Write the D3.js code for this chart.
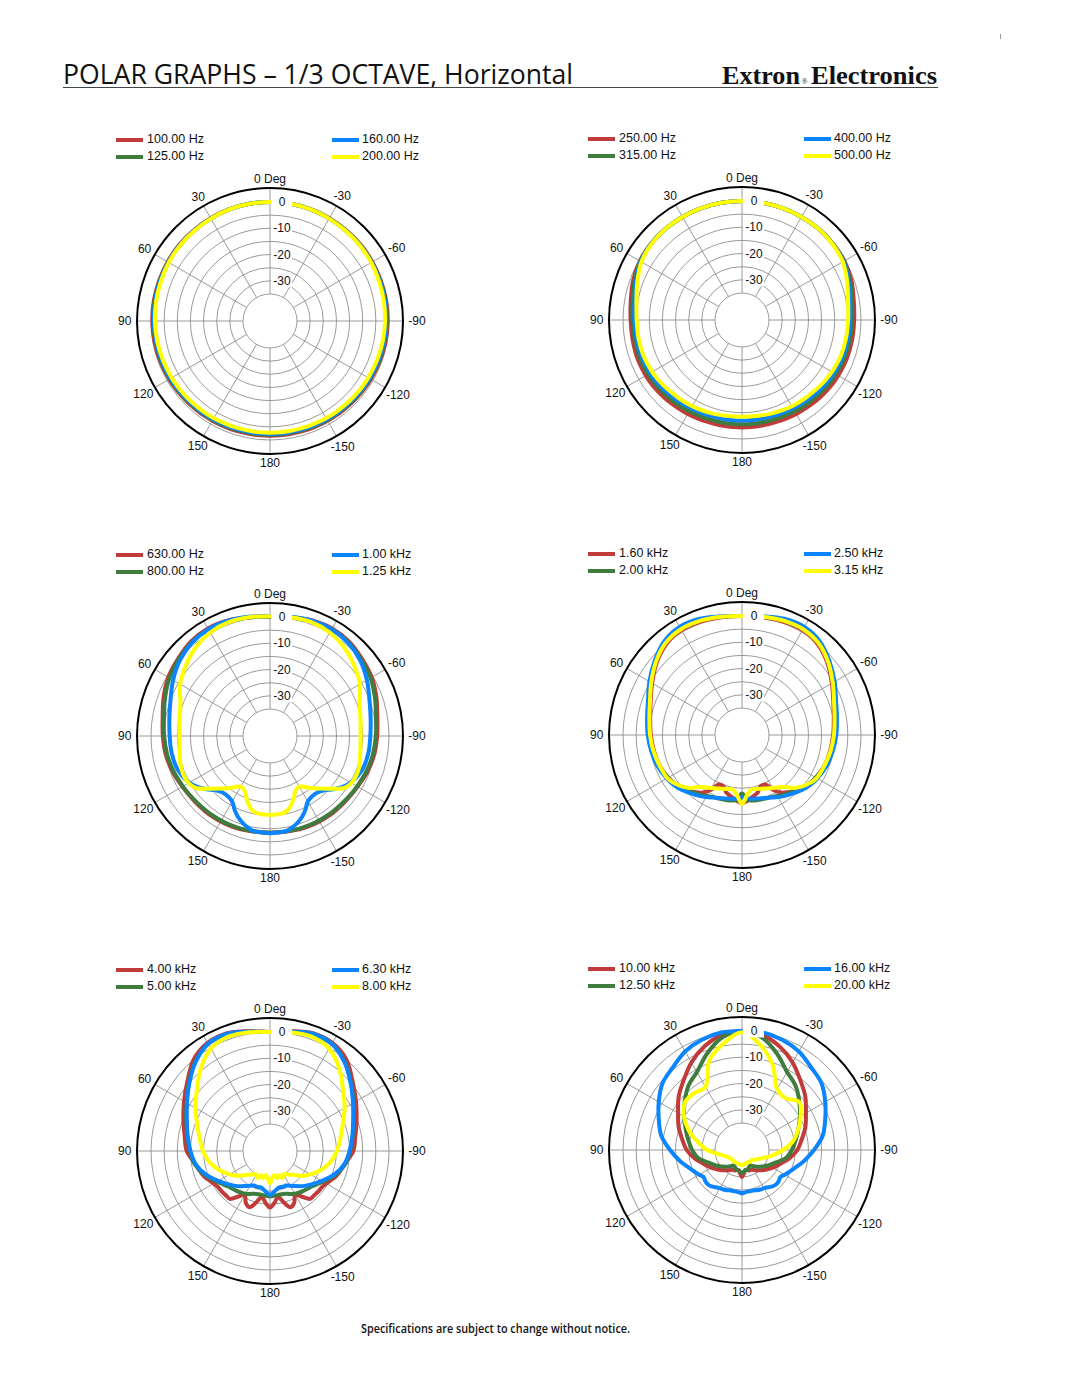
<!DOCTYPE html>
<html><head><meta charset="utf-8">
<script src="https://cdn.jsdelivr.net/npm/d3@7"></script>
<style>html,body{margin:0;padding:0;background:#fff}svg{display:block}</style>
</head><body>
<svg id="c" width="1080" height="1397"></svg>
<script>
// ---------- DATA ----------
const ANGLES = [0,10,20,30,40,50,60,70,80,90,100,110,120,125,130,135,140,145,150,155,160,165,170,175,180,
  -175,-170,-165,-160,-155,-150,-145,-140,-135,-130,-125,-120,-110,-100,-90,-80,-70,-60,-50,-40,-30,-20,-10];

const LEGEND_1 = ["100.00 Hz","125.00 Hz","160.00 Hz","200.00 Hz"];
const LEGEND_2 = ["250.00 Hz","315.00 Hz","400.00 Hz","500.00 Hz"];
const LEGEND_3 = ["630.00 Hz","800.00 Hz","1.00 kHz","1.25 kHz"];
const LEGEND_4 = ["1.60 kHz","2.00 kHz","2.50 kHz","3.15 kHz"];
const LEGEND_5 = ["4.00 kHz","5.00 kHz","6.30 kHz","8.00 kHz"];
const LEGEND_6 = ["10.00 kHz","12.50 kHz","16.00 kHz","20.00 kHz"];

const GRID_DB = [-35,-30,-25,-20,-15,-10,-5,0];
const DB_TICKS = [0,-10,-20,-30];
const DB_TICK_LABELS = ["0","-10","-20","-30"];
const ANGLE_TICKS = [0,30,60,90,120,150,180,-150,-120,-90,-60,-30];
const ANGLE_LABELS = ["0 Deg","30","60","90","120","150","180","-150","-120","-90","-60","-30"];

// chart 1 : 100 - 200 Hz
const C1_A = [0,0,0,-0.1,-0.2,-0.2,-0.3,-0.4,-0.4,-0.5,-0.6,-0.8,-1.0,-1.1,-1.2,-1.3,-1.4,-1.4,-1.5,-1.5,-1.5,-1.6,-1.6,-1.6,-1.6,
  -1.6,-1.6,-1.6,-1.5,-1.5,-1.5,-1.4,-1.4,-1.3,-1.2,-1.1,-1.0,-0.8,-0.6,-0.5,-0.4,-0.4,-0.3,-0.2,-0.2,-0.1,0,0];
const C1_B = [0,0,-0.1,-0.2,-0.3,-0.4,-0.5,-0.6,-0.7,-0.8,-1.0,-1.1,-1.3,-1.4,-1.5,-1.6,-1.7,-1.8,-1.8,-1.9,-1.9,-2.0,-2.0,-2.0,-2.0,
  -2.0,-2.0,-2.0,-1.9,-1.9,-1.8,-1.8,-1.7,-1.6,-1.5,-1.4,-1.3,-1.1,-1.0,-0.8,-0.7,-0.6,-0.5,-0.4,-0.3,-0.2,-0.1,0];
const C1_C = [0,0,-0.1,-0.3,-0.4,-0.5,-0.6,-0.8,-0.9,-1.1,-1.2,-1.4,-1.6,-1.7,-1.8,-1.9,-2.0,-2.0,-2.1,-2.2,-2.2,-2.3,-2.3,-2.3,-2.3,
  -2.3,-2.3,-2.3,-2.2,-2.2,-2.1,-2.0,-2.0,-1.9,-1.8,-1.7,-1.6,-1.4,-1.2,-1.1,-0.9,-0.8,-0.6,-0.5,-0.4,-0.3,-0.1,0];
const C1_D = [0,0,-0.1,-0.3,-0.5,-0.6,-0.8,-1.1,-1.3,-1.5,-1.7,-1.9,-2.1,-2.2,-2.3,-2.4,-2.5,-2.5,-2.6,-2.7,-2.7,-2.8,-2.8,-2.8,-2.8,
  -2.8,-2.8,-2.8,-2.7,-2.7,-2.6,-2.5,-2.5,-2.4,-2.3,-2.2,-2.1,-1.9,-1.7,-1.5,-1.3,-1.1,-0.8,-0.6,-0.5,-0.3,-0.1,0];

// chart 2 : 250 - 500 Hz
const C2_A = [0,0,0,0,0,-0.1,-0.4,-1.2,-2.3,-2.9,-3.0,-2.9,-3.0,-3.1,-3.3,-3.5,-3.7,-3.9,-4.0,-4.2,-4.3,-4.4,-4.4,-4.4,-4.4,
  -4.4,-4.4,-4.4,-4.3,-4.2,-4.0,-3.9,-3.7,-3.5,-3.3,-3.1,-3.0,-2.8,-2.7,-2.6,-2.1,-1.0,-0.3,-0.1,0,0,0,0];
const C2_B = [0,0,0,0,0,-0.1,-0.6,-1.8,-3.0,-3.6,-3.8,-3.8,-4.0,-4.2,-4.4,-4.6,-4.8,-5.0,-5.2,-5.4,-5.5,-5.6,-5.6,-5.6,-5.6,
  -5.6,-5.6,-5.6,-5.5,-5.4,-5.2,-5.0,-4.8,-4.6,-4.4,-4.2,-4.0,-3.7,-3.6,-3.4,-2.8,-1.6,-0.5,-0.1,0,0,0,0];
const C2_C = [0,0,0,0,0,-0.2,-0.8,-2.3,-3.7,-4.3,-4.5,-4.6,-4.9,-5.1,-5.4,-5.7,-6.0,-6.3,-6.5,-6.7,-6.9,-7.0,-7.0,-7.0,-7.0,
  -7.0,-7.0,-7.0,-6.9,-6.7,-6.5,-6.3,-6.0,-5.7,-5.4,-5.1,-4.9,-4.5,-4.3,-4.1,-3.5,-2.1,-0.7,-0.2,0,0,0,0];
const C2_D = [0,0,0,0,0,-0.3,-1.1,-2.9,-4.5,-5.2,-5.3,-5.4,-5.8,-6.1,-6.4,-6.8,-7.0,-7.2,-7.4,-7.6,-7.9,-8.1,-8.3,-8.5,-8.5,
  -8.5,-8.3,-8.1,-7.9,-7.6,-7.4,-7.2,-7.0,-6.8,-6.4,-6.1,-5.8,-5.3,-5.1,-4.9,-4.3,-2.7,-1.0,-0.3,0,0,0,0];

// chart 3 : 630 Hz - 1.25 kHz
const C3_A = [0.2,0.6,1.5,2.0,1.6,0.4,-0.6,-2.2,-3.8,-4.5,-5.0,-5.8,-6.8,-7.1,-7.3,-7.4,-7.5,-7.6,-7.7,-7.8,-8.0,-8.2,-8.4,-8.5,-8.5,
  -8.5,-8.4,-8.2,-8.0,-7.8,-7.7,-7.6,-7.5,-7.4,-7.3,-7.1,-6.8,-5.8,-5.0,-4.5,-3.8,-2.2,-0.6,0.4,1.6,2.0,1.5,0.6];
const C3_B = [0.2,0.5,1.2,1.6,1.2,0,-1.1,-2.8,-4.3,-5.0,-5.5,-6.2,-7.0,-7.3,-7.6,-7.8,-7.9,-8.0,-8.1,-8.2,-8.3,-8.4,-8.5,-8.5,-8.5,
  -8.5,-8.5,-8.4,-8.3,-8.2,-8.1,-8.0,-7.9,-7.8,-7.6,-7.3,-7.0,-6.2,-5.5,-5.0,-4.3,-2.8,-1.1,0,1.2,1.6,1.2,0.5];
const C3_C = [0.3,0.8,1.4,1.6,1.0,-0.5,-2.7,-5.0,-6.4,-7.1,-7.3,-7.9,-9.8,-11.5,-13.8,-16.0,-17.2,-17.3,-16.5,-13.8,-11.5,-9.8,-8.6,-8.4,-8.3,
  -8.4,-8.6,-9.8,-11.5,-13.8,-16.5,-17.3,-17.2,-16.0,-13.8,-11.5,-9.8,-7.9,-7.3,-7.1,-6.4,-5.0,-2.7,-0.5,1.0,1.6,1.4,0.8];
const C3_D = [0.3,0.6,0.8,0.2,-1.3,-3.5,-5.8,-9.0,-10.3,-10.8,-10.4,-9.3,-9.5,-10.8,-14.0,-17.0,-19.3,-21.5,-23.0,-22.3,-19.5,-16.8,-15.5,-15.3,-15.3,
  -15.3,-15.5,-16.8,-19.5,-22.3,-23.0,-21.5,-19.3,-17.0,-14.0,-10.8,-9.5,-9.3,-10.4,-10.8,-10.3,-9.0,-5.8,-3.5,-1.3,0.2,0.8,0.6];

// chart 4 : 1.6 - 3.15 kHz
const C4_A = [0,0.2,0.6,0.8,-0.3,-2.8,-5.8,-8.3,-9.8,-10.6,-11.2,-11.8,-12.8,-13.5,-14.3,-15.4,-17.0,-18.5,-21.0,-24.5,-24.5,-22.5,-21.5,-20.2,-19.3,
  -20.2,-21.5,-22.5,-24.5,-24.5,-21.0,-18.5,-17.0,-15.4,-14.3,-13.5,-12.8,-11.8,-11.2,-10.6,-9.8,-8.3,-5.8,-2.8,-0.3,0.8,0.6,0.2];
const C4_B = [0,0.4,1.3,1.6,0.5,-2.2,-5.2,-7.8,-9.2,-10.0,-10.7,-11.5,-12.8,-13.5,-14.4,-15.5,-16.6,-17.6,-18.5,-19.2,-19.5,-19.8,-20.0,-20.5,-23.0,
  -20.5,-20.0,-19.8,-19.5,-19.2,-18.5,-17.6,-16.6,-15.5,-14.4,-13.5,-12.8,-11.5,-10.7,-10.0,-9.2,-7.8,-5.2,-2.2,0.5,1.6,1.3,0.4];
const C4_C = [0,0.6,1.8,2.2,1.0,-1.8,-4.6,-7.2,-8.6,-9.4,-10.2,-11.0,-12.2,-12.9,-13.8,-14.9,-16.0,-17.0,-18.0,-19.0,-19.8,-20.3,-20.6,-21.0,-21.5,
  -21.0,-20.6,-20.3,-19.8,-19.0,-18.0,-17.0,-16.0,-14.9,-13.8,-12.9,-12.2,-11.0,-10.2,-9.4,-8.6,-7.2,-4.6,-1.8,1.0,2.2,1.8,0.6];
const C4_D = [0,0.4,1.0,1.2,0.2,-2.4,-5.4,-8.0,-9.5,-10.3,-11.0,-11.8,-12.5,-13.5,-15.0,-16.8,-19.5,-21.0,-22.0,-22.8,-23.5,-24.0,-24.3,-22.5,-19.0,
  -22.5,-24.3,-24.0,-23.5,-22.8,-22.0,-21.0,-19.5,-16.8,-15.0,-13.5,-12.5,-11.8,-11.0,-10.3,-9.5,-8.0,-5.4,-2.4,0.2,1.2,1.0,0.4];

// chart 5 : 4 - 8 kHz
const C5_A = [0,1.0,2.4,2.2,0,-4.2,-7.5,-10.2,-12.3,-13.6,-16.5,-18.2,-20.5,-21.2,-21.3,-21.5,-21.5,-24.0,-26.0,-23.5,-22.5,-25.0,-27.5,-25.5,-23.8,
  -25.5,-27.5,-25.0,-22.5,-23.5,-26.0,-24.0,-21.5,-21.5,-21.3,-21.2,-20.5,-18.2,-16.5,-13.6,-12.3,-10.2,-7.5,-4.2,0,2.2,2.4,1.0];
const C5_B = [0,0.8,2.0,1.8,-1.0,-5.0,-8.6,-11.4,-13.3,-14.8,-16.2,-18.8,-22.0,-23.3,-24.4,-25.0,-25.5,-26.0,-26.5,-27.2,-28.0,-28.2,-28.3,-28.2,-28.0,
  -28.2,-28.3,-28.2,-28.0,-27.2,-26.5,-26.0,-25.5,-25.0,-24.4,-23.3,-22.0,-18.8,-16.2,-14.8,-13.3,-11.4,-8.6,-5.0,-1.0,1.8,2.0,0.8];
const C5_C = [0,0.8,2.2,1.8,-1.2,-5.2,-8.8,-11.6,-13.5,-15.0,-16.5,-19.2,-22.5,-24.0,-25.3,-26.5,-27.8,-29.0,-30.0,-30.8,-30.8,-31.0,-30.5,-29.5,-28.5,
  -29.5,-30.5,-31.0,-30.8,-30.8,-30.0,-29.0,-27.8,-26.5,-25.3,-24.0,-22.5,-19.2,-16.5,-15.0,-13.5,-11.6,-8.8,-5.2,-1.2,1.8,2.2,0.8];
const C5_D = [0,0.6,1.0,-0.3,-4.3,-9.0,-12.5,-15.8,-18.1,-19.8,-21.8,-24.5,-27.5,-29.0,-30.5,-32.5,-33.5,-34.5,-35.0,-34.0,-35.5,-34.5,-36.0,-35.0,-33.0,
  -35.0,-36.0,-34.5,-35.5,-34.0,-35.0,-34.5,-33.5,-32.5,-30.5,-29.0,-27.5,-24.5,-21.8,-19.8,-18.1,-15.8,-12.5,-9.0,-4.3,-0.3,1.0,0.6];

// chart 6 : 10 - 20 kHz
const C6_A = [0,-0.8,-3.4,-6.8,-10.7,-13.8,-17.2,-19.6,-22.2,-24.2,-27.0,-29.8,-31.8,-32.8,-33.6,-34.4,-35.2,-35.8,-36.5,-37.0,-37.0,-37.5,-37.5,-36.5,-35.0,
  -36.5,-37.5,-37.5,-37.0,-37.0,-36.5,-35.8,-35.2,-34.4,-33.6,-32.8,-31.8,-29.8,-27.0,-24.2,-22.2,-19.6,-17.2,-13.8,-10.7,-6.8,-3.4,-0.8];
const C6_B = [0,-1.8,-6.3,-11.0,-13.5,-16.8,-19.8,-22.5,-24.6,-26.3,-28.2,-31.5,-33.6,-34.6,-35.5,-36.2,-37.0,-37.8,-38.5,-38.5,-38.0,-37.5,-37.5,-37.0,-36.4,
  -37.0,-37.5,-37.5,-38.0,-38.5,-38.5,-37.8,-37.0,-36.2,-35.5,-34.6,-33.6,-31.5,-28.2,-26.3,-24.6,-22.5,-19.8,-16.8,-13.5,-11.0,-6.3,-1.8];
const C6_C = [0,0.1,-0.6,-2.0,-4.3,-5.8,-8.7,-11.6,-14.1,-17.9,-21.3,-24.4,-26.5,-27.4,-27.0,-26.8,-27.2,-28.0,-28.5,-28.7,-29.0,-29.3,-29.3,-29.2,-28.8,
  -29.2,-29.3,-29.3,-29.0,-28.7,-28.5,-28.0,-27.2,-26.8,-27.0,-27.4,-26.5,-24.4,-21.3,-17.9,-14.1,-11.6,-8.7,-5.8,-4.3,-2.0,-0.6,0.1];
const C6_D = [-0.5,-4.2,-9.0,-17.5,-17.0,-17.0,-19.8,-23.8,-28.3,-32.0,-36.2,-38.5,-39.5,-39.8,-40.0,-40.0,-40.0,-40.0,-40.0,-40.0,-40.0,-40.0,-39.8,-39.6,-39.5,
  -39.6,-39.8,-40.0,-40.0,-40.0,-40.0,-40.0,-40.0,-39.8,-39.5,-39.0,-38.3,-36.5,-33.5,-29.7,-25.5,-22.5,-19.5,-16.8,-19.5,-18.5,-11.0,-4.8];

// ---------- LAYOUT / STYLE ----------
const charts = [
  {cx:270, cy:321, legend:LEGEND_1, series:[C1_A,C1_B,C1_C,C1_D]},
  {cx:742, cy:320, legend:LEGEND_2, series:[C2_A,C2_B,C2_C,C2_D]},
  {cx:270, cy:736, legend:LEGEND_3, series:[C3_A,C3_B,C3_C,C3_D]},
  {cx:742, cy:735, legend:LEGEND_4, series:[C4_A,C4_B,C4_C,C4_D]},
  {cx:270, cy:1151, legend:LEGEND_5, series:[C5_A,C5_B,C5_C,C5_D]},
  {cx:742, cy:1150, legend:LEGEND_6, series:[C6_A,C6_B,C6_C,C6_D]}
];
const COLORS = ["#c13b3b","#3e7d3e","#0a84ff","#ffff00"];
const FONT = "'Liberation Sans', Arial, Helvetica, sans-serif";
const OUTER_R = 133;
const INNER_R = 27;
const rScale = d3.scaleLinear().domain([-35, 0]).range([INNER_R, 119]);
const rad = d => d * Math.PI / 180;

const svg = d3.select("#c");

// header
svg.append("text").attr("x", 63).attr("y", 84)
  .attr("font-family", "'Open Sans', 'Noto Sans', sans-serif").attr("font-size", 27)
  .attr("fill", "#111").attr("textLength", 510).attr("lengthAdjust", "spacingAndGlyphs")
  .text("POLAR GRAPHS \u2013 1/3 OCTAVE, Horizontal");
svg.append("line").attr("x1", 63).attr("x2", 938).attr("y1", 87.5).attr("y2", 87.5)
  .attr("stroke", "#444").attr("stroke-width", 1.2);
const SERIF = "'Liberation Serif', 'Times New Roman', serif";
svg.append("text").attr("x", 722).attr("y", 84).attr("font-family", SERIF).attr("font-weight", "bold")
  .attr("font-size", 26).attr("fill", "#111").attr("textLength", 78).attr("lengthAdjust", "spacingAndGlyphs")
  .text("Extron");
svg.append("text").attr("x", 801.5).attr("y", 84).attr("font-family", SERIF)
  .attr("font-size", 8).attr("fill", "#111").text("\u00AE");
svg.append("text").attr("x", 811).attr("y", 84).attr("font-family", SERIF).attr("font-weight", "bold")
  .attr("font-size", 26).attr("fill", "#111").attr("textLength", 126).attr("lengthAdjust", "spacingAndGlyphs")
  .text("Electronics");
svg.append("line").attr("x1", 1000.5).attr("x2", 1000.5).attr("y1", 34).attr("y2", 39)
  .attr("stroke", "#999").attr("stroke-width", 1);

// footer
svg.append("text").attr("x", 361).attr("y", 1333)
  .attr("font-family", "'Open Sans', 'Noto Sans', sans-serif").attr("font-weight", 600)
  .attr("font-size", 12).attr("fill", "#111").attr("textLength", 269).attr("lengthAdjust", "spacingAndGlyphs")
  .text("Specifications are subject to change without notice.");

const lineGen = d3.lineRadial()
  .angle(d => -rad(d[0]))
  .radius(d => rScale(d[1]))
  .curve(d3.curveCatmullRomClosed.alpha(0.5));

charts.forEach(ch => {
  const g = svg.append("g").attr("transform", `translate(${ch.cx},${ch.cy})`);

  // legend
  const cols = [{sx:-154, tx:-123}, {sx:-154, tx:-123}, {sx:62, tx:92}, {sx:62, tx:92}];
  ch.legend.forEach((lab, i) => {
    const c = cols[i];
    const y = (i % 2 === 0) ? -182 : -165;
    g.append("rect").attr("x", c.sx).attr("y", y - 1).attr("width", 27).attr("height", 4)
      .attr("fill", COLORS[i]);
    g.append("text").attr("x", c.tx).attr("y", y).attr("dominant-baseline", "central")
      .attr("font-family", FONT).attr("font-size", 12.5).attr("fill", "#111").text(lab);
  });

  // grid circles
  g.selectAll("circle.grid").data(GRID_DB).enter().append("circle")
    .attr("r", d => rScale(d)).attr("fill", "none").attr("stroke", "#8e8e8e").attr("stroke-width", 0.9);
  // spokes
  g.selectAll("line.spoke").data(d3.range(0, 360, 30)).enter().append("line")
    .attr("x1", d => INNER_R * Math.sin(rad(d))).attr("y1", d => -INNER_R * Math.cos(rad(d)))
    .attr("x2", d => OUTER_R * Math.sin(rad(d))).attr("y2", d => -OUTER_R * Math.cos(rad(d)))
    .attr("stroke", "#8e8e8e").attr("stroke-width", 0.9);
  // outer circle
  g.append("circle").attr("r", OUTER_R).attr("fill", "none").attr("stroke", "#000").attr("stroke-width", 2);

  // curves
  ch.series.forEach((vals, i) => {
    const pts = ANGLES.map((a, k) => [a, vals[k]]);
    g.append("path").attr("d", lineGen(pts)).attr("fill", "none")
      .attr("stroke", COLORS[i]).attr("stroke-width", 4)
      .attr("stroke-linejoin", "round").attr("stroke-linecap", "round");
  });

  // dB labels with white backing
  DB_TICKS.forEach((d, i) => {
    const y = -rScale(d);
    g.append("rect").attr("x", 1).attr("y", y - 6.5).attr("width", 21).attr("height", 13).attr("fill", "#fff");
    g.append("text").attr("x", 12).attr("y", y).attr("text-anchor", "middle").attr("dominant-baseline", "central")
      .attr("font-family", FONT).attr("font-size", 12).attr("fill", "#111").text(DB_TICK_LABELS[i]);
  });

  // angle labels
  ANGLE_TICKS.forEach((a, i) => {
    const lab = ANGLE_LABELS[i];
    const hw = lab.length * 3.3;
    const R = 142 + 0.5 * hw * Math.abs(Math.sin(rad(a)));
    g.append("text").attr("x", -R * Math.sin(rad(a))).attr("y", -R * Math.cos(rad(a)))
      .attr("text-anchor", "middle").attr("dominant-baseline", "central")
      .attr("font-family", FONT).attr("font-size", 12).attr("fill", "#111").text(lab);
  });
});
</script>
</body></html>
